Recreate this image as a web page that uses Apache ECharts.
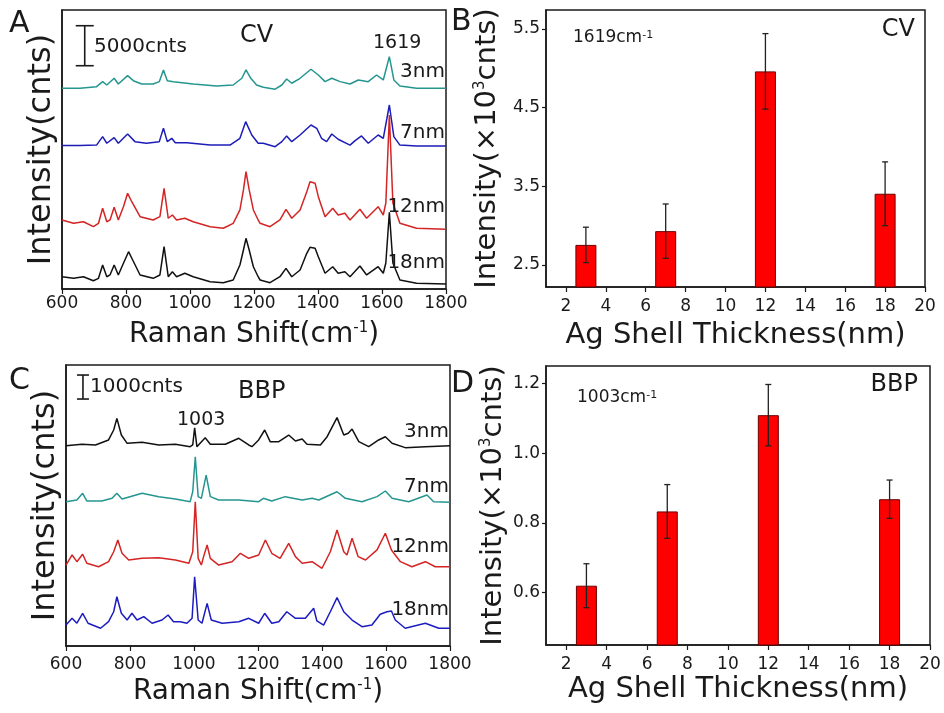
<!DOCTYPE html>
<html>
<head>
<meta charset="utf-8">
<script src="https://cdn.jsdelivr.net/npm/echarts@6/dist/echarts.min.js"></script>
<style>
  html, body { margin: 0; padding: 0; background: #fff; }
  #main { width: 944px; height: 713px; }
</style>
</head>
<body>
<div id="main"></div>
<script>
// ---- data ----
// Raman spectra, [wavenumber (cm-1), counts above own baseline]
var cv3nm = [[600,0],[656,0],[708,200],[727,830],[740,410],[763,1250],[776,540],[805,1580],[823,950],[849,540],[885,540],[904,830],[917,2290],[929,950],[948,830],[1010,540],[1083,290],[1135,410],[1162,1250],[1175,2290],[1190,1250],[1208,410],[1229,120],[1266,-120],[1287,410],[1302,1160],[1318,630],[1344,1250],[1378,2380],[1401,1660],[1422,830],[1443,1250],[1469,830],[1500,540],[1526,1040],[1557,830],[1583,1660],[1604,1040],[1623,3950],[1637,1040],[1656,290],[1708,0],[1800,0]]
var cv7nm = [[600,0],[656,0],[708,50],[727,1100],[740,280],[763,980],[776,280],[805,1440],[828,480],[864,280],[904,480],[917,2150],[929,480],[943,900],[954,350],[990,350],[1063,50],[1125,50],[1156,900],[1174,2980],[1193,1310],[1213,280],[1229,280],[1266,-150],[1287,480],[1302,1190],[1318,480],[1344,1310],[1378,2560],[1396,2150],[1411,900],[1427,480],[1443,1440],[1463,780],[1500,50],[1516,600],[1536,1190],[1557,280],[1588,1310],[1604,900],[1623,5060],[1637,1100],[1656,50],[1708,-60],[1800,-60]]
var cv12nm = [[600,380],[636,-40],[667,160],[698,-460],[714,-40],[727,1840],[740,160],[750,380],[763,1960],[776,380],[792,2040],[805,3710],[818,2660],[844,790],[885,380],[906,790],[919,4340],[932,590],[945,1000],[958,380],[984,590],[1010,160],[1063,-460],[1104,-660],[1135,-40],[1156,1630],[1167,4130],[1175,6410],[1185,4130],[1198,1630],[1213,380],[1219,-40],[1250,-460],[1281,380],[1300,1710],[1318,590],[1344,1630],[1365,3910],[1375,5160],[1391,4960],[1401,3290],[1422,790],[1446,1840],[1463,1000],[1484,1210],[1500,380],[1531,1710],[1552,590],[1588,2040],[1604,1000],[1612,2500],[1623,13500],[1634,2500],[1656,-40],[1708,-660],[1800,-790]]
var cv18nm = [[600,160],[636,-40],[667,160],[698,-340],[714,-40],[727,1630],[740,160],[750,380],[763,1630],[776,380],[792,1840],[808,3290],[822,2160],[844,380],[885,-40],[906,380],[919,3910],[932,160],[945,790],[958,160],[984,590],[1010,160],[1063,-460],[1104,-590],[1135,-250],[1156,1630],[1167,3500],[1175,4960],[1185,3500],[1198,1410],[1213,160],[1219,-250],[1250,-590],[1281,160],[1300,1210],[1318,160],[1344,1000],[1365,3090],[1375,3840],[1391,3710],[1401,2660],[1422,590],[1446,1410],[1463,590],[1484,790],[1500,160],[1531,1500],[1552,380],[1588,1410],[1604,590],[1612,1880],[1623,8210],[1634,1880],[1656,-250],[1708,-660],[1800,-750]]
var cvOffsets = [25090, 17940, 8250, 1375]

var bbp3nm = [[600,-30],[650,30],[692,0],[733,210],[749,625],[759,1110],[773,415],[791,70],[838,110],[890,0],[942,30],[988,-70],[996,0],[1002,720],[1009,-70],[1035,305],[1051,30],[1098,30],[1140,280],[1171,0],[1181,-70],[1202,210],[1221,625],[1238,140],[1265,140],[1296,415],[1317,165],[1338,250],[1353,30],[1395,0],[1416,345],[1447,1140],[1468,415],[1482,490],[1494,665],[1515,140],[1546,-70],[1577,210],[1598,345],[1619,70],[1660,-110],[1723,-70],[1800,-30]]
var bbp7nm = [[600,-70],[634,0],[652,280],[665,-40],[712,-40],[744,70],[759,280],[775,40],[838,280],[890,140],[942,40],[988,-70],[996,345],[1004,1805],[1013,140],[1023,70],[1038,1040],[1051,140],[1077,0],[1140,0],[1202,-70],[1217,70],[1243,-40],[1285,140],[1338,0],[1369,70],[1390,0],[1447,345],[1473,70],[1525,-70],[1572,140],[1598,375],[1619,70],[1671,-70],[1728,210],[1749,-70],[1800,-95]]
var bbp12nm = [[600,-140],[619,280],[634,0],[652,310],[665,-65],[702,-210],[733,0],[749,415],[762,905],[775,350],[796,70],[838,140],[890,165],[942,70],[984,-65],[996,415],[1004,2500],[1013,140],[1023,-140],[1030,210],[1041,695],[1051,140],[1077,-140],[1119,0],[1145,350],[1171,140],[1202,280],[1223,905],[1243,350],[1269,140],[1296,765],[1317,210],[1338,-65],[1369,0],[1400,-275],[1426,415],[1447,1320],[1468,415],[1478,280],[1494,975],[1513,210],[1536,70],[1572,490],[1598,1185],[1617,490],[1645,0],[1681,-210],[1723,0],[1754,-210],[1800,-210]]
var bbp18nm = [[600,-140],[619,140],[634,-65],[652,350],[669,-65],[708,-275],[733,0],[749,415],[759,1040],[773,350],[791,70],[806,350],[822,70],[843,210],[869,-65],[900,70],[919,280],[936,0],[957,0],[978,-65],[994,140],[1002,1875],[1013,70],[1025,-65],[1041,765],[1054,70],[1088,-65],[1140,0],[1171,140],[1202,-65],[1221,350],[1243,-65],[1265,0],[1290,415],[1317,140],[1348,140],[1374,560],[1384,30],[1405,-140],[1426,415],[1447,1000],[1468,415],[1494,70],[1525,-210],[1556,-140],[1582,310],[1603,415],[1617,445],[1629,70],[1660,-275],[1723,-65],[1765,-275],[1800,-275]]
var bbpOffsets = [8375, 6083, 3513, 1013]

var sampleLabels = ['3nm', '7nm', '12nm', '18nm']

// peak intensity vs Ag shell thickness
var shellThickness = [3, 7, 12, 18]
var cvPeak = [2.755, 2.93, 4.96, 3.405]
var cvPeakErr = [0.225, 0.345, 0.48, 0.405]
var bbpPeak = [0.62, 0.833, 1.109, 0.868]
var bbpPeakErr = [0.063, 0.077, 0.088, 0.055]

var thicknessTicks = [2, 4, 6, 8, 10, 12, 14, 16, 18, 20]
var cvTicks = [2.5, 3.5, 4.5, 5.5]
var bbpTicks = [0.6, 0.8, 1.0, 1.2]

// scale bars: [wavenumber, bottom counts, length]
var cvScale = [671, 27910, 5000]
var bbpScale = [653, 10290, 1000]

// ---- styling ----
var FONT = '"DejaVu Sans", "Liberation Sans", sans-serif'
var INK = '#1a1a1a'
var CV_COLORS = ['#24968f', '#1c1cb8', '#d42424', '#111111']
var BBP_COLORS = ['#111111', '#24968f', '#d42424', '#1c1cc0']

var chart = echarts.init(document.getElementById('main'))

function shifted(points, off) {
  return points.map(function (p) { return [p[0], p[1] + off] })
}

function spectrumAxisX(gridIndex, margin) {
  return {
    gridIndex: gridIndex, type: 'value', min: 600, max: 1800, interval: 200,
    axisLine: { lineStyle: { color: INK, width: 1.5 } },
    axisTick: { inside: false, length: 5, lineStyle: { color: INK, width: 1.2 } },
    axisLabel: {
      margin: margin, fontSize: 17, color: INK, fontFamily: FONT,
      formatter: function (v) { return String(v) }
    },
    splitLine: { show: false },
    name: 'Raman Shift(cm{sup|-1})', nameLocation: 'middle', nameGap: 32,
    nameTextStyle: {
      fontSize: 28, color: INK, fontFamily: FONT,
      rich: { sup: { fontSize: 15, verticalAlign: 'top', color: INK, fontFamily: FONT } }
    }
  }
}

function spectrumAxisY(gridIndex, max) {
  return {
    gridIndex: gridIndex, type: 'value', min: 0, max: max,
    axisLine: { show: true, lineStyle: { color: INK, width: 1.5 } },
    axisTick: { show: false }, axisLabel: { show: false }, splitLine: { show: false },
    name: 'Intensity(cnts)', nameLocation: 'middle', nameGap: 4,
    nameTextStyle: { fontSize: 32, color: INK, fontFamily: FONT }
  }
}

function thicknessAxisX(gridIndex, nameGap) {
  return {
    gridIndex: gridIndex, type: 'value', min: 1, max: 20,
    axisLine: { lineStyle: { color: INK, width: 1.5 } },
    axisTick: { length: 5, customValues: thicknessTicks, lineStyle: { color: INK, width: 1.2 } },
    axisLabel: { margin: 11, fontSize: 17, color: INK, fontFamily: FONT, customValues: thicknessTicks },
    splitLine: { show: false },
    name: 'Ag Shell Thickness(nm)', nameLocation: 'middle', nameGap: nameGap,
    nameTextStyle: { fontSize: 29, color: INK, fontFamily: FONT }
  }
}

function intensityAxisY(gridIndex, min, max, ticks, nameGap) {
  return {
    gridIndex: gridIndex, type: 'value', min: min, max: max,
    axisLine: { show: true, lineStyle: { color: INK, width: 1.5 } },
    axisTick: { show: true, length: 4, customValues: ticks, lineStyle: { color: INK, width: 1.2 } },
    axisLabel: {
      margin: 6, fontSize: 17, color: INK, fontFamily: FONT, customValues: ticks,
      formatter: function (v) { return v.toFixed(1) }
    },
    splitLine: { show: false },
    name: 'Intensity(×10{sup|3}cnts)', nameLocation: 'middle', nameGap: nameGap,
    nameTextStyle: {
      fontSize: 29, color: INK, fontFamily: FONT,
      rich: { sup: { fontSize: 15, verticalAlign: 'top', color: INK, fontFamily: FONT } }
    }
  }
}

function spectrumSeries(list, offsets, colors, xi) {
  return list.map(function (pts, i) {
    return {
      type: 'line', xAxisIndex: xi, yAxisIndex: xi, name: sampleLabels[i],
      data: shifted(pts, offsets[i]), symbol: 'none', silent: true,
      lineStyle: { color: colors[i], width: 1.5 }, z: 2 + i
    }
  })
}

function scaleBarSeries(bar, xi, capPx) {
  return {
    type: 'custom', xAxisIndex: xi, yAxisIndex: xi, silent: true, z: 10,
    data: [bar],
    renderItem: function (params, api) {
      var lo = api.coord([api.value(0), api.value(1)])
      var hi = api.coord([api.value(0), api.value(1) + api.value(2)])
      var st = { stroke: INK, lineWidth: 1.6 }
      return {
        type: 'group', children: [
          { type: 'line', shape: { x1: lo[0], y1: lo[1], x2: hi[0], y2: hi[1] }, style: st },
          { type: 'line', shape: { x1: lo[0] - capPx, y1: lo[1], x2: lo[0] + capPx, y2: lo[1] }, style: st },
          { type: 'line', shape: { x1: hi[0] - capPx, y1: hi[1], x2: hi[0] + capPx, y2: hi[1] }, style: st }
        ]
      }
    }
  }
}

function barSeries(values, xi) {
  return {
    type: 'bar', xAxisIndex: xi, yAxisIndex: xi, barWidth: 21, silent: true,
    data: shellThickness.map(function (t, i) { return [t, values[i]] }),
    itemStyle: { color: '#ff0000', borderColor: '#6a0000', borderWidth: 1 }
  }
}

function errorSeries(values, errs, xi) {
  return {
    type: 'custom', xAxisIndex: xi, yAxisIndex: xi, silent: true, z: 10,
    data: shellThickness.map(function (t, i) { return [t, values[i] - errs[i], values[i] + errs[i]] }),
    renderItem: function (params, api) {
      var lo = api.coord([api.value(0), api.value(1)])
      var hi = api.coord([api.value(0), api.value(2)])
      var st = { stroke: '#222', lineWidth: 1.3 }
      return {
        type: 'group', children: [
          { type: 'line', shape: { x1: lo[0], y1: lo[1], x2: hi[0], y2: hi[1] }, style: st },
          { type: 'line', shape: { x1: lo[0] - 3, y1: lo[1], x2: lo[0] + 3, y2: lo[1] }, style: st },
          { type: 'line', shape: { x1: hi[0] - 3, y1: hi[1], x2: hi[0] + 3, y2: hi[1] }, style: st }
        ]
      }
    }
  }
}

function txt(x, y, s, size, align, rich) {
  return {
    type: 'text', x: x, y: y, silent: true, z: 20,
    style: {
      text: s, fill: INK, font: size + 'px ' + FONT,
      textAlign: align || 'left', textVerticalAlign: 'middle', rich: rich
    }
  }
}

var supRich = { sup: { fontSize: 11, verticalAlign: 'top', fill: INK, fontFamily: FONT } }

var option = {
  animation: false,
  backgroundColor: '#fff',
  grid: [
    { left: 62, top: 10, width: 384, height: 279, show: true, borderColor: INK, borderWidth: 1.5 },
    { left: 546, top: 10, width: 379, height: 277, show: true, borderColor: INK, borderWidth: 1.5 },
    { left: 66, top: 365, width: 384, height: 281, show: true, borderColor: INK, borderWidth: 1.5 },
    { left: 546, top: 366, width: 384, height: 279, show: true, borderColor: INK, borderWidth: 1.5 }
  ],
  xAxis: [
    spectrumAxisX(0, 6),
    thicknessAxisX(1, 34),
    spectrumAxisX(2, 10),
    thicknessAxisX(3, 30)
  ],
  yAxis: [
    spectrumAxisY(0, 34875),
    intensityAxisY(1, 2.22, 5.74, cvTicks, 44),
    spectrumAxisY(2, 11708),
    intensityAxisY(3, 0.45, 1.25, bbpTicks, 38)
  ],
  series: []
    .concat(spectrumSeries([cv3nm, cv7nm, cv12nm, cv18nm], cvOffsets, CV_COLORS, 0))
    .concat([scaleBarSeries(cvScale, 0, 9)])
    .concat([barSeries(cvPeak, 1), errorSeries(cvPeak, cvPeakErr, 1)])
    .concat(spectrumSeries([bbp3nm, bbp7nm, bbp12nm, bbp18nm], bbpOffsets, BBP_COLORS, 2))
    .concat([scaleBarSeries(bbpScale, 2, 6)])
    .concat([barSeries(bbpPeak, 3), errorSeries(bbpPeak, bbpPeakErr, 3)]),
  graphic: [
    txt(9, 24, 'A', 30), txt(451, 22, 'B', 30), txt(9, 381, 'C', 30), txt(451, 384, 'D', 30),
    // panel A
    txt(94, 47, '5000cnts', 20), txt(240, 36, 'CV', 24), txt(373, 43, '1619', 19),
    txt(445, 72, sampleLabels[0], 20, 'right'), txt(445, 133, sampleLabels[1], 20, 'right'),
    txt(445, 207, sampleLabels[2], 20, 'right'), txt(445, 263, sampleLabels[3], 20, 'right'),
    // panel B
    txt(573, 38, '1619cm{sup|-1}', 17, 'left', supRich), txt(915, 30, 'CV', 24, 'right'),
    // panel C
    txt(90, 387, '1000cnts', 20), txt(238, 392, 'BBP', 24), txt(177, 420, '1003', 19),
    txt(449, 432, sampleLabels[0], 20, 'right'), txt(449, 487, sampleLabels[1], 20, 'right'),
    txt(449, 547, sampleLabels[2], 20, 'right'), txt(449, 610, sampleLabels[3], 20, 'right'),
    // panel D
    txt(577, 398, '1003cm{sup|-1}', 17, 'left', supRich), txt(918, 385, 'BBP', 24, 'right')
  ]
}

chart.setOption(option)
</script>
</body>
</html>
